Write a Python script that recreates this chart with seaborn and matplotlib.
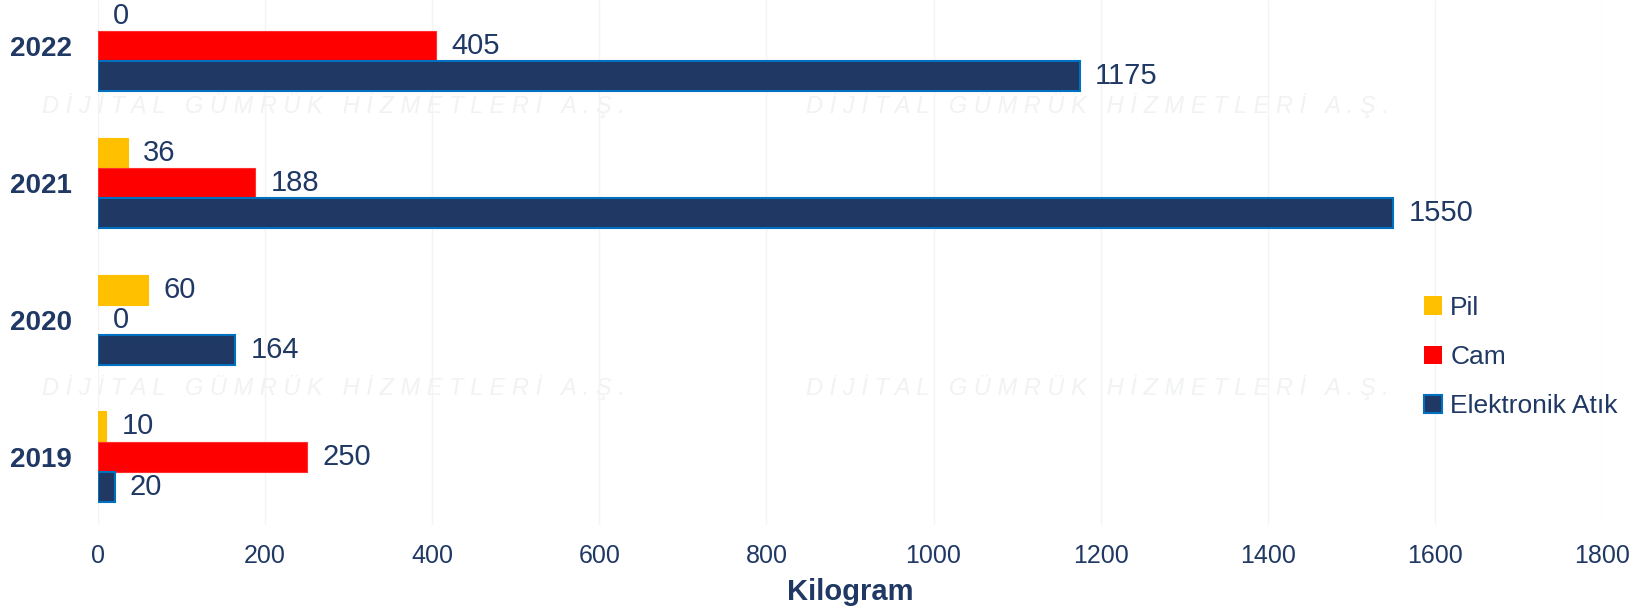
import pandas as pd
import matplotlib.pyplot as plt
import seaborn as sns

years = ["2022", "2021", "2020", "2019"]
pil = [0, 36, 60, 10]
cam = [405, 188, 0, 250]
elektronik = [1175, 1550, 164, 20]
series_names = ["Pil", "Cam", "Elektronik Atık"]
x_ticks = [0, 200, 400, 600, 800, 1000, 1200, 1400, 1600, 1800]

navy = "#1F3864"
colors = {"Pil": "#FFC000", "Cam": "#FF0000", "Elektronik Atık": "#1F3864"}
edges = {"Pil": "#FFC000", "Cam": "#FF3030", "Elektronik Atık": "#0070C0"}

df = pd.DataFrame({
    "Yil": years * 3,
    "Tur": [n for n in series_names for _ in years],
    "Kg": pil + cam + elektronik,
})

sns.set_style("white")
plt.rcParams["font.family"] = ["Liberation Sans", "DejaVu Sans"]

fig = plt.figure(figsize=(16.42, 6.11), dpi=100)
ax = fig.add_axes([98 / 1642, 86 / 611, (1602 - 98) / 1642, 525 / 611])

# faint watermark text
wm = "D İ J İ T A L   G Ü M R Ü K   H İ Z M E T L E R İ   A . Ş ."
for wx, wy in [(42, 105), (806, 105), (42, 387), (806, 387)]:
    fig.text(wx / 1642, 1 - wy / 611, wm, fontsize=17, color="#F1F2F2",
             style="italic", va="center", ha="left", zorder=0)

sns.barplot(data=df, y="Yil", x="Kg", hue="Tur", order=years,
            hue_order=series_names, palette=colors, width=0.66,
            orient="h", ax=ax, legend=False, saturation=1)

for cont, name in zip(ax.containers, series_names):
    for bar in cont:
        bar.set_edgecolor(edges[name])
        lw = 1.5 if name == "Elektronik Atık" else 0.8
        bar.set_linewidth(lw if bar.get_width() > 0 else 0)
    ax.bar_label(cont, labels=[f"{int(v)}" for v in cont.datavalues],
                 padding=11, fontsize=21, color=navy)

ax.set_xlim(0, 1800)
ax.set_ylim(3.5, -0.336)
ax.set_xticks(x_ticks)
ax.tick_params(axis="x", length=0, pad=14, labelsize=18, labelcolor=navy)
ax.tick_params(axis="y", length=0, pad=19, labelsize=20, labelcolor=navy)
for lbl in ax.get_yticklabels():
    lbl.set_fontweight("bold")
ax.set_ylabel("")
ax.set_xlabel("Kilogram", fontsize=21, fontweight="bold", color=navy, labelpad=7)
ax.grid(axis="x", color="#F4F4F4", linewidth=1)
ax.set_axisbelow(True)
ax.set_facecolor("none")
sns.despine(ax=ax, left=True, bottom=True)

handles = [plt.Rectangle((0, 0), 1, 1, facecolor=colors[n], edgecolor=edges[n],
                         linewidth=1.5 if n == "Elektronik Atık" else 0)
           for n in series_names]
leg = ax.legend(handles, series_names, loc="center left",
                bbox_to_anchor=(1400 / 1642, 1 - 357 / 611),
                bbox_transform=fig.transFigure, frameon=False, fontsize=19,
                handlelength=0.7, handleheight=0.7, handletextpad=0.3,
                labelspacing=0.95, labelcolor=navy)

fig.savefig("out.png", dpi=100)
